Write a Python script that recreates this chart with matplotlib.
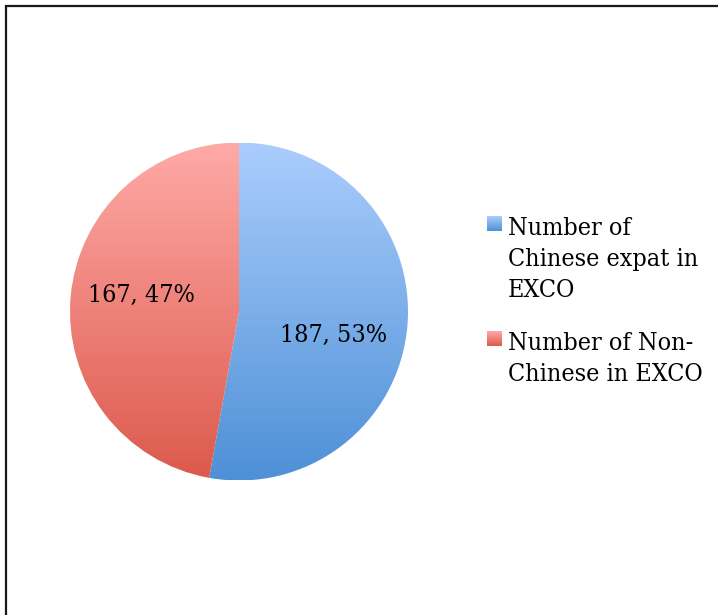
import numpy as np
import matplotlib
matplotlib.use("Agg")
import matplotlib.pyplot as plt
from matplotlib.patches import Rectangle
from matplotlib.colors import LinearSegmentedColormap

# EXCO composition
labels = ["Number of\nChinese expat in\nEXCO", "Number of Non-\nChinese in EXCO"]
counts = [187, 167]
# gradient end colours per slice (top, bottom)
top_colors = ["#abcdfd", "#ffaaa7"]
bottom_colors = ["#4e90d6", "#dc594c"]

W, H = 718, 615
fig = plt.figure(figsize=(W / 100, H / 100), dpi=100)
fig.patch.set_facecolor("white")

# outer frame, runs off the right and bottom edges
fig.add_artist(Rectangle((6 / W, -0.1), 1.2, 1 - 5.5 / H + 0.1, transform=fig.transFigure,
                         fill=False, edgecolor="#1a1a1a", linewidth=1.6))

cx, cy, r = 239, 311.5, 169
ax = fig.add_axes([(cx - r) / W, (H - cy - r) / H, 2 * r / W, 2 * r / H])
wedges, _ = ax.pie(counts, startangle=90, counterclock=False, radius=1,
                   wedgeprops=dict(linewidth=0))
ax.set_xlim(-1, 1)
ax.set_ylim(-1, 1)
ax.axis("off")

grad = np.linspace(0, 1, 256).reshape(-1, 1)
for w, c0, c1 in zip(wedges, top_colors, bottom_colors):
    w.set_facecolor("none")
    cmap = LinearSegmentedColormap.from_list("g", [c0, c1])
    im = ax.imshow(grad, cmap=cmap, extent=[-1, 1, -1, 1], aspect="auto",
                   origin="upper", zorder=0)
    im.set_clip_path(w)

total = sum(counts)
font = dict(family="DejaVu Serif", stretch="condensed", size=18, color="black")
label_pos = [(0.56, -0.14), (-0.58, 0.092)]
for (x, y), n in zip(label_pos, counts):
    ax.text(x, y, f"{n}, {round(100 * n / total)}%", ha="center", va="center", **font)

# legend with gradient swatches
legend_rows = [216, 331]
for row, lab, c0, c1 in zip(legend_rows, labels, top_colors, bottom_colors):
    sw = fig.add_axes([487 / W, (H - row - 15) / H, 15 / W, 15 / H])
    cmap = LinearSegmentedColormap.from_list("g", [c0, c1])
    sw.imshow(grad, cmap=cmap, aspect="auto", origin="upper")
    sw.axis("off")
    fig.text(508 / W, 1 - (row + 1) / H, lab, ha="left", va="top", linespacing=1.45, **font)

fig.savefig("out.png", dpi=100)
